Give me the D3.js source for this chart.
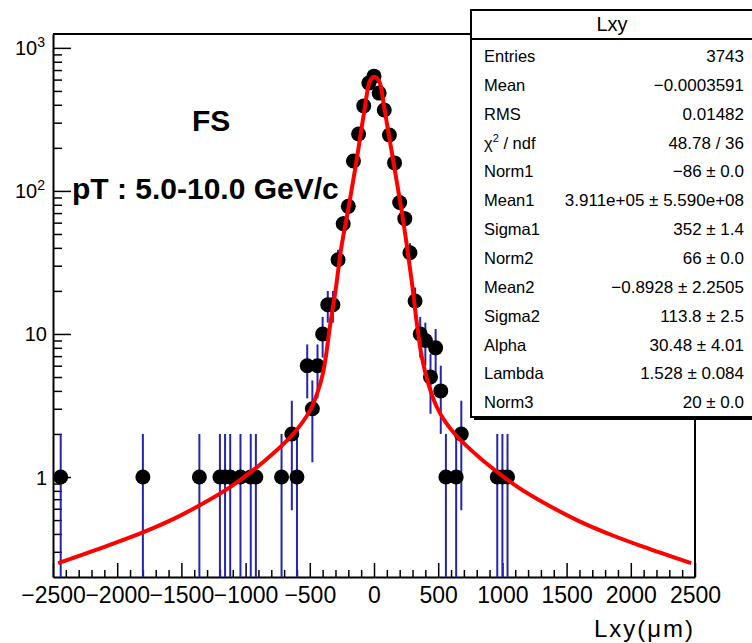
<!DOCTYPE html>
<html>
<head>
<meta charset="utf-8">
<script src="https://cdn.jsdelivr.net/npm/d3@7"></script>
<style>
  body { margin: 0; background: #fff; }
  svg text { font-family: "Liberation Sans", Arial, Helvetica, sans-serif; }
</style>
</head>
<body>
<div id="chart"></div>
<script>
// histogram bins (bin centres, um) and counts
var lxy = [-2440, -1800, -1360, -1200, -1160, -1120, -1040, -960, -920, -720, -640, -600,
  -520, -480, -440, -400, -360, -320, -280, -240, -200, -160, -120, -80, -40, 0,
  40, 80, 120, 160, 200, 240, 280, 320, 360, 400, 440, 480, 520, 560, 640, 680, 960, 1000, 1040];
var counts = [1, 1, 1, 1, 1, 1, 1, 1, 1, 1, 2, 1,
  6, 3, 6, 10, 16, 16, 33, 59, 78, 162, 250, 393, 568, 634,
  483, 368, 246, 157, 83, 64, 37, 17, 10, 9, 5, 8, 4, 1, 1, 2, 1, 1, 1];

// fit curve
var fitX = [-2460, -2100, -1800, -1560, -1350, -1120, -860, -640, -500, -440, -400, -380, -340,
  -300, -255, -200, -135, -80, -30, 0, 40, 80, 150, 215, 255, 295, 333, 371, 423, 488, 560,
  640, 750, 860, 1120, 1350, 1600, 1860, 2100, 2470];
var fitY = [0.25, 0.325, 0.41, 0.51, 0.64, 0.85, 1.28, 1.95, 2.9, 3.9, 5.2, 6.5, 11.8,
  20, 40, 75, 165, 340, 590, 627, 585, 380, 162, 73, 42, 23, 12, 7.0, 4.5, 3.1, 2.4,
  1.95, 1.56, 1.28, 0.85, 0.64, 0.49, 0.39, 0.325, 0.25];

var xTicks = [-2500, -2000, -1500, -1000, -500, 0, 500, 1000, 1500, 2000, 2500];
var yTicks = [1, 10, 100, 1000];
var yTickBase = ["1", "10", "10", "10"];
var yTickExp = ["", "", "2", "3"];

var statNames = ["Entries", "Mean", "RMS", "χ2 / ndf", "Norm1", "Mean1", "Sigma1", "Norm2",
  "Mean2", "Sigma2", "Alpha", "Lambda", "Norm3"];
var statValues = ["3743", "\u22120.0003591", "0.01482", "48.78 / 36", "\u221286 \u00b1 0.0",
  "3.911e+05 \u00b1 5.590e+08", "352 \u00b1 1.4", "66 \u00b1 0.0", "\u22120.8928 \u00b1 2.2505",
  "113.8 \u00b1 2.5", "30.48 \u00b1 4.01", "1.528 \u00b1 0.084", "20 \u00b1 0.0"];

(function(){
  var width = 752, height = 643;
  var fL = 53, fR = 695, fT = 34, fB = 577;

  var svg = d3.select("#chart").append("svg")
    .attr("width", width)
    .attr("height", height);

  var x = d3.scaleLinear().domain([-2500, 2500]).range([fL, fR]);
  var y = d3.scaleLog().domain([0.2, 1250]).range([fB, fT]);

  svg.append("defs").append("clipPath").attr("id", "frame")
    .append("rect")
    .attr("x", fL).attr("y", fT)
    .attr("width", fR - fL).attr("height", fB - fT);

  // minor ticks
  var xMinor = d3.range(-2500, 2501, 100).filter(function(v) { return v % 500 != 0; });
  svg.append("g")
    .attr("transform", "translate(0," + fB + ")")
    .call(d3.axisBottom(x).tickValues(xMinor).tickSize(-7).tickSizeOuter(0).tickFormat(""))
    .call(function(g) { g.select(".domain").remove(); })
    .selectAll("line").attr("stroke-width", 1.5);

  var yMinor = [];
  [0.1, 1, 10, 100].forEach(function(d) {
    for (var k = 2; k <= 9; k++) {
      var v = d * k;
      if (v > 0.2 && v < 1250) yMinor.push(v);
    }
  });
  svg.append("g")
    .attr("transform", "translate(" + fL + ",0)")
    .call(d3.axisLeft(y).tickValues(yMinor).tickSize(-9).tickSizeOuter(0).tickFormat(""))
    .call(function(g) { g.select(".domain").remove(); })
    .selectAll("line").attr("stroke-width", 1.5);

  // major x axis
  var xAxis = svg.append("g")
    .attr("transform", "translate(0," + fB + ")")
    .call(d3.axisBottom(x).tickValues(xTicks).tickSize(-14).tickSizeOuter(0)
      .tickFormat(function(d) { return d < 0 ? "\u2212" + Math.abs(d) : d; }));
  xAxis.select(".domain").attr("stroke-width", 2);
  xAxis.selectAll("line").attr("stroke-width", 1.5);
  xAxis.selectAll("text")
    .attr("font-size", 23)
    .attr("fill", "#000")
    .attr("y", 26)
    .attr("dy", 0);

  // major y axis
  var yAxis = svg.append("g")
    .attr("transform", "translate(" + fL + ",0)")
    .call(d3.axisLeft(y).tickValues(yTicks).tickSize(-18).tickSizeOuter(0).tickFormat(""));
  yAxis.select(".domain").attr("stroke-width", 2);
  yAxis.selectAll("line").attr("stroke-width", 1.5);
  yAxis.selectAll(".tick").each(function(d, i) {
    var t = d3.select(this).select("text")
      .attr("font-size", 20)
      .attr("fill", "#000")
      .attr("x", yTickExp[i] ? -8 : -6)
      .attr("dy", "0.35em");
    t.append("tspan").text(yTickBase[i]);
    if (yTickExp[i]) {
      t.append("tspan").attr("font-size", 14).attr("dy", "-0.6em").text(yTickExp[i]);
    }
  });

  // frame top / right
  svg.append("line").attr("x1", fL).attr("x2", fR).attr("y1", fT).attr("y2", fT)
    .attr("stroke", "#000").attr("stroke-width", 2);
  svg.append("line").attr("x1", fR).attr("x2", fR).attr("y1", fT).attr("y2", fB)
    .attr("stroke", "#000").attr("stroke-width", 2);

  // labels in the pad
  svg.append("text").attr("x", 192).attr("y", 131)
    .attr("font-size", 30).attr("font-weight", "bold").text("FS");
  svg.append("text").attr("x", 72).attr("y", 199)
    .attr("font-size", 30).attr("font-weight", "bold").text("pT : 5.0-10.0 GeV/c");

  svg.append("text").attr("x", 693).attr("y", 637)
    .attr("text-anchor", "end").attr("font-size", 24)
    .attr("textLength", 99).attr("lengthAdjust", "spacing")
    .text("Lxy(\u03bcm)");

  // data
  var plot = svg.append("g").attr("clip-path", "url(#frame)");
  var pts = lxy.map(function(v, i) { return { x: v, n: counts[i], e: Math.sqrt(counts[i]) }; });

  plot.selectAll("line.err").data(pts).enter().append("line")
    .attr("class", "err")
    .attr("x1", function(d) { return x(d.x); })
    .attr("x2", function(d) { return x(d.x); })
    .attr("y1", function(d) { return d.n - d.e > 0.2 ? y(d.n - d.e) : fB; })
    .attr("y2", function(d) { return y(d.n + d.e); })
    .attr("stroke", "#2424b0")
    .attr("stroke-width", 2);

  plot.selectAll("circle").data(pts).enter().append("circle")
    .attr("cx", function(d) { return x(d.x); })
    .attr("cy", function(d) { return y(d.n); })
    .attr("r", 7.5)
    .attr("fill", "#000");

  var line = d3.line()
    .curve(d3.curveCatmullRom.alpha(0.5))
    .x(function(d, i) { return x(fitX[i]); })
    .y(function(d) { return y(d); });

  plot.append("path")
    .attr("d", line(fitY))
    .attr("fill", "none")
    .attr("stroke", "#ff0000")
    .attr("stroke-width", 4)
    .attr("stroke-linejoin", "round");

  // stats box
  var bx = 471, by = 10, bw = 290, bh = 407;
  svg.append("rect").attr("x", bx + 3).attr("y", by + 3).attr("width", bw).attr("height", bh)
    .attr("fill", "#000");
  svg.append("rect").attr("x", bx).attr("y", by).attr("width", bw).attr("height", bh)
    .attr("fill", "#fff").attr("stroke", "#000").attr("stroke-width", 2);
  svg.append("line").attr("x1", bx).attr("x2", bx + bw).attr("y1", 39).attr("y2", 39)
    .attr("stroke", "#000").attr("stroke-width", 2);
  svg.append("text").attr("x", 612).attr("y", 31).attr("text-anchor", "middle")
    .attr("font-size", 20).text("Lxy");

  var rows = svg.append("g").selectAll("g").data(statNames).enter().append("g")
    .attr("transform", function(d, i) { return "translate(0," + (62 + i * 28.85) + ")"; });
  rows.append("text").attr("x", 484).attr("font-size", 16.5)
    .each(function(d) {
      var t = d3.select(this);
      if (d.indexOf("χ2") == 0) {
        t.append("tspan").text("\u03c7");
        t.append("tspan").attr("font-size", 11).attr("dy", "-0.6em").text("2");
        t.append("tspan").attr("dy", "0.4em").text(" / ndf");
      } else {
        t.text(d);
      }
    });
  rows.append("text").attr("x", 744).attr("font-size", 17).attr("text-anchor", "end")
    .text(function(d, i) { return statValues[i]; });
})();
</script>
</body>
</html>
